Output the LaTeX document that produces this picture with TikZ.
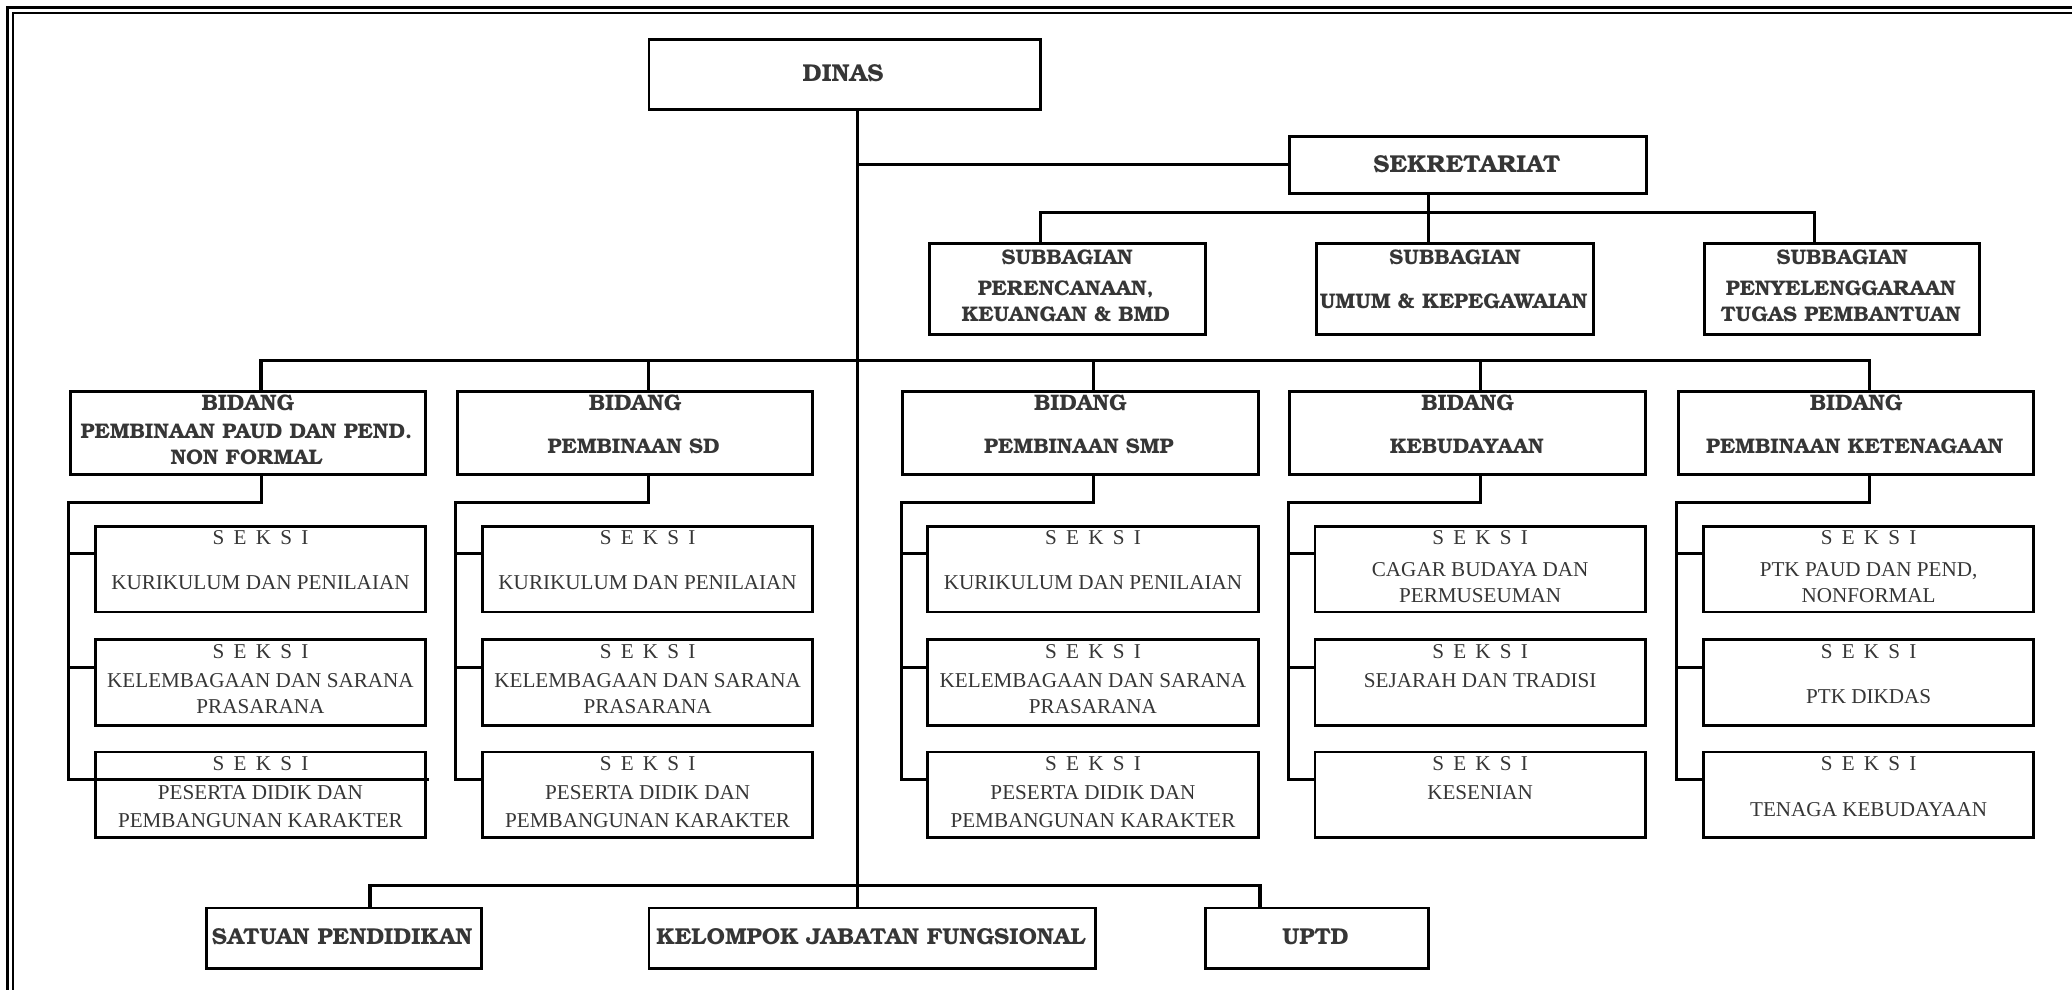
\documentclass[tikz,border=0pt]{standalone}
\usepackage{fontspec}
\newfontfamily\hdfont{texgyrebonum}[Extension=.otf,UprightFont=*-regular,BoldFont=*-bold]
\newfontfamily\skfont{Liberation Serif}
\definecolor{txtgray}{HTML}{363636}

\begin{document}
\begin{tikzpicture}[x=1pt,y=-1pt,line cap=rect,
  box/.style={draw,line width=2.2pt,inner sep=0pt,anchor=north west},
  link/.style={line width=2.2pt},
  bus/.style={line width=2.6pt},
  hd/.style={anchor=base,inner sep=0pt,text=txtgray,font=\hdfont\bfseries\fontsize{16}{18}\selectfont},
  hdb/.style={hd,font=\hdfont\bfseries\fontsize{17}{19}\selectfont},
  hdl/.style={hd,font=\hdfont\bfseries\fontsize{17.4}{20}\selectfont},
  hdt/.style={hd,font=\hdfont\bfseries\fontsize{18.5}{20}\selectfont},
  sk/.style={anchor=base,inner sep=0pt,text=txtgray,font=\skfont\fontsize{16}{18}\selectfont},
  sks/.style={sk,execute at begin node={\spaceskip=7pt\relax}}]
\useasboundingbox (0,0) rectangle (1568,749);
\clip (0,0) rectangle (1568,749);
% frame
\draw[line width=2.3pt] (6,6) rectangle (1600,800);
\draw[line width=1.5pt] (9.5,9.5) rectangle (1600,800);

% dinas, sekretariat, subbagian
\node[box,minimum width=296,minimum height=53] (dinas) at (490,29) {};
\node[box,minimum width=270,minimum height=43] (sekr) at (975,102) {};
\node[box,minimum width=209,minimum height=69] (sub1) at (702,183) {};
\node[box,minimum width=210,minimum height=69] (sub2) at (995,183) {};
\node[box,minimum width=208,minimum height=69] (sub3) at (1289,183) {};

% bidang and seksi columns
\foreach \i/\x in {1/52,2/345,3/682,4/975,5/1269}{
  \node[box,minimum width=269,minimum height=63] (b\i) at (\x,295) {};
  \node[box,minimum width=250,minimum height=65] (sa\i) at (\x+19,397) {};
  \node[box,minimum width=250,minimum height=65] (sb\i) at (\x+19,483) {};
  \node[box,minimum width=250,minimum height=65] (sc\i) at (\x+19,568) {};
  \node[hdb] (bt\i) at ([yshift=-15.5]b\i.north) {BIDANG};
  \foreach \s in {a,b,c}{
    \node[sks] (t\s\i) at ([yshift=-15]s\s\i.north) {S E K S I};
    \coordinate (k\s\i) at ([yshift=-22]s\s\i.north west);
    \draw[link] (k\s\i -| b\i.west) -- (k\s\i);
  }
  \draw[link] ([xshift=10]b\i.south) -- ++(0,20) -| (kc\i -| b\i.west);
}
\draw[link] (kc1) -- (kc1 -| sc1.east);

% unit pelaksana
\node[box,minimum width=208,minimum height=46] (satuan) at (155,686) {};
\node[box,minimum width=338,minimum height=46] (kjf) at (490,686) {};
\node[box,minimum width=169,minimum height=46] (uptd) at (911,686) {};

% connectors
\draw[link] ([xshift=10]dinas.south) coordinate (t0) -- (t0 |- kjf.north);
\draw[link] (t0 |- sekr.west) -- (sekr.west);
\draw[link] ([xshift=-30]sekr.south) -- ([xshift=-20]sub2.north);
\draw[bus] ([xshift=-20]sub1.north) -- ++(0,-22) -| ([xshift=-21]sub3.north);
\draw[bus] ([xshift=10]b1.north) -- ++(0,-22) -| ([xshift=10]b5.north);
\foreach \i in {2,3,4} \draw[link] ([xshift=10]b\i.north) -- ++(0,-22);
\draw[bus] ([xshift=20]satuan.north) -- ++(0,-16) -| ([xshift=-43]uptd.north);

% texts
\node[hdt] (tdinas) at (638,61.5) {DINAS};
\node[hdt] (tsekr) at (1110,130.5) {SEKRETARIAT};
\foreach \i in {1,2,3} \node[hd] (tsub\i) at ([yshift=-17.5]sub\i.north) {SUBBAGIAN};
\node[hd] (ua0) at (806.5,223.5) {PERENCANAAN,};
\node[hd] (ub0) at (806.5,243.5) {KEUANGAN \& BMD};
\node[hd] (uc0) at (1100,233.5) {UMUM \& KEPEGAWAIAN};
\node[hd] (ud0) at (1393,223.5) {PENYELENGGARAAN};
\node[hd] (ue0) at (1393,243.5) {TUGAS PEMBANTUAN};

\node[hd] (bu1) at (186.5,331.5) {PEMBINAAN PAUD DAN PEND.};
\node[hd] (bv1) at (186.5,351.5) {NON FORMAL};
\node[hd] (bu2) at (479.5,343.5) {PEMBINAAN SD};
\node[hd] (bu3) at (816.5,343.5) {PEMBINAAN SMP};
\node[hd] (bu4) at (1110,343.5) {KEBUDAYAAN};
\node[hd] (bu5) at (1403.5,343.5) {PEMBINAAN KETENAGAAN};

\foreach \i in {1,2,3}{
  \node[sk] (ua\i) at ([yshift=-49]sa\i.north) {KURIKULUM DAN PENILAIAN};
  \node[sk] (ub\i) at ([yshift=-37]sb\i.north) {KELEMBAGAAN DAN SARANA};
  \node[sk] (vb\i) at ([yshift=-57]sb\i.north) {PRASARANA};
  \node[sk] (uc\i) at ([yshift=-37]sc\i.north) {PESERTA DIDIK DAN};
  \node[sk] (vc\i) at ([yshift=-58]sc\i.north) {PEMBANGUNAN KARAKTER};
}
\node[sk] (ua4) at ([yshift=-39]sa4.north) {CAGAR BUDAYA DAN};
\node[sk] (va4) at ([yshift=-59]sa4.north) {PERMUSEUMAN};
\node[sk] (ub4) at ([yshift=-37]sb4.north) {SEJARAH DAN TRADISI};
\node[sk] (uc4) at ([yshift=-37]sc4.north) {KESENIAN};
\node[sk] (ua5) at ([yshift=-39]sa5.north) {PTK PAUD DAN PEND,};
\node[sk] (va5) at ([yshift=-59]sa5.north) {NONFORMAL};
\node[sk] (ub5) at ([yshift=-49]sb5.north) {PTK DIKDAS};
\node[sk] (uc5) at ([yshift=-50]sc5.north) {TENAGA KEBUDAYAAN};

\node[hdl] (tsat) at (259,715) {SATUAN PENDIDIKAN};
\node[hdl] (tkjf) at (659,715) {KELOMPOK JABATAN FUNGSIONAL};
\node[hdl] (tuptd) at (995.5,715) {UPTD};
\end{tikzpicture}
\end{document}
